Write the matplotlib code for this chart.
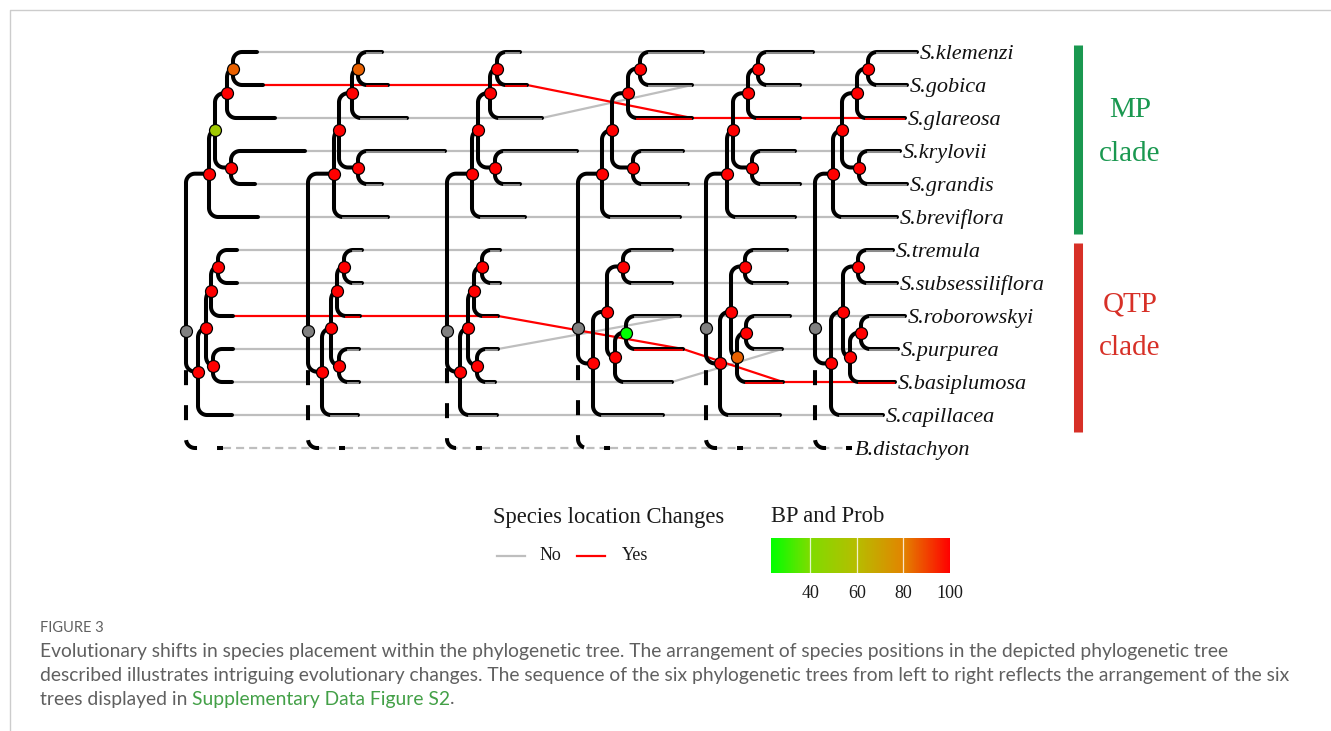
import numpy as np
import matplotlib
matplotlib.use("Agg")
import matplotlib.pyplot as plt
from matplotlib.colors import LinearSegmentedColormap, Normalize
from matplotlib.cm import ScalarMappable
from matplotlib.lines import Line2D

plt.rcParams["lines.scale_dashes"] = False

# ---- data ---------------------------------------------------------------
# Six trees, left to right.  "(a,b):x#bp" is an internal node at depth x
# (measured from the tree root) with support bp; "name:x" is a tip whose
# branch ends at depth x.  Tip order in the string = order top to bottom.
TREE_1 = ("(((((S.klemenzi:71,S.glareosa:77):47#85,S.gobica:89):41#100,"
          "(S.krylovii:119,S.grandis:69):45#100):29#52,S.breviflora:72):23#100,"
          "((((S.tremula:51,S.subsessiliflora:51):32#100,S.basiplumosa:47):25#100,"
          "(S.roborowskyi:47,S.purpurea:46):27#100):20#100,S.capillacea:46):12#100,"
          "B.distachyon:37):0#NA")
TREE_2 = ("(((((S.klemenzi:74,S.glareosa:80):50#85,S.gobica:99):44#100,"
          "(S.krylovii:137,S.grandis:74):50#100):31#100,S.breviflora:80):26#100,"
          "((((S.tremula:54,S.subsessiliflora:54):36#100,S.basiplumosa:52):29#100,"
          "(S.roborowskyi:51,S.purpurea:51):31#100):23#100,S.capillacea:50):14#100,"
          "B.distachyon:37):0#NA")
TREE_3 = ("(((((S.klemenzi:73,S.glareosa:80):50#100,S.gobica:95):43#100,"
          "(S.krylovii:130,S.grandis:73):48#100):31#100,S.breviflora:78):25#100,"
          "((((S.tremula:53,S.subsessiliflora:53):35#100,S.basiplumosa:51):27#100,"
          "(S.roborowskyi:51,S.purpurea:48):30#100):21#100,S.capillacea:50):13#100,"
          "B.distachyon:35):0#NA")
TREE_4 = ("(((((S.klemenzi:125,S.gobica:114):62#100,S.glareosa:114):50#100,"
          "(S.krylovii:105,S.grandis:110):55#100):34#100,S.breviflora:102):24#100,"
          "(((S.tremula:94,S.subsessiliflora:94):45#100,((S.roborowskyi:102,"
          "S.basiplumosa:105):48#23,S.purpurea:94):37#100):29#100,"
          "S.capillacea:85):15#100,B.distachyon:32):0#NA")
TREE_5 = ("(((((S.klemenzi:107,S.gobica:94):52#100,S.glareosa:94):42#100,"
          "(S.krylovii:89,S.grandis:94):46#100):27#100,S.breviflora:89):21#100,"
          "(((S.tremula:81,S.subsessiliflora:81):39#100,((S.roborowskyi:84,"
          "S.purpurea:76):40#100,S.basiplumosa:77):31#85):25#100,"
          "S.capillacea:74):14#100,B.distachyon:37):0#NA")
TREE_6 = ("(((((S.klemenzi:102,S.gobica:92):53#100,S.glareosa:90):42#100,"
          "(S.krylovii:85,S.grandis:92):44#100):27#100,S.breviflora:82):18#100,"
          "(((S.tremula:78,S.subsessiliflora:82):43#100,((S.roborowskyi:90,"
          "S.purpurea:83):46#100,S.basiplumosa:80):35#100):28#100,"
          "S.capillacea:68):16#100,B.distachyon:37):0#NA")
TREES = [TREE_1, TREE_2, TREE_3, TREE_4, TREE_5, TREE_6]

CHANGED = ["S.glareosa", "S.basiplumosa"]      # "Yes" in the legend
OUTGROUP = "B.distachyon"
MP_CLADE = ["S.klemenzi", "S.gobica", "S.glareosa", "S.krylovii",
            "S.grandis", "S.breviflora"]
QTP_CLADE = ["S.tremula", "S.subsessiliflora", "S.roborowskyi",
             "S.purpurea", "S.basiplumosa", "S.capillacea"]
BP_STOPS = [23.2, 40, 60, 80, 100]
BP_TICKS = [40, 60, 80, 100]

# ---- layout / style ------------------------------------------------------
W, H = 1331, 731
ROW0, ROW_PX = 52, 33            # pixel y of first tip row, row spacing
TREE_X = [186, 308, 447, 578, 706, 815]
BR_LW = 2.9
CORNER = 9
GREY = "#bebebe"
SERIF = ["Liberation Serif", "DejaVu Serif"]
BP_COLORS = ["#00ff00", "#7fdc00", "#b6bd00", "#e28400", "#ff0000"]

span = BP_STOPS[-1] - BP_STOPS[0]
cmap = LinearSegmentedColormap.from_list(
    "bp", [((v - BP_STOPS[0]) / span, c) for v, c in zip(BP_STOPS, BP_COLORS)])
norm = Normalize(BP_STOPS[0], BP_STOPS[-1])


def parse_tree(s):
    pos = 0

    def read():
        nonlocal pos
        kids = []
        if s[pos] == "(":
            pos += 1
            kids.append(read())
            while s[pos] == ",":
                pos += 1
                kids.append(read())
            pos += 1
        start = pos
        while pos < len(s) and s[pos] not in ",)":
            pos += 1
        name, rest = s[start:pos].rsplit(":", 1)
        depth, _, bp = rest.partition("#")
        return {"name": name, "depth": float(depth),
                "bp": None if bp in ("", "NA") else float(bp), "kids": kids}

    return read()


def place(node, x0, tips):
    node["x"] = x0 + node["depth"]
    if node["kids"]:
        for kid in node["kids"]:
            place(kid, x0, tips)
        node["y"] = np.mean([k["y"] for k in node["kids"]])
    else:
        node["y"] = len(tips)
        tips[node["name"]] = node


def elbow(px, py, cx, cy):
    """Vertical at px, rounded corner, horizontal out to cx."""
    s = np.sign(cy - py)
    rx = min(CORNER, cx - px)
    ry = min(CORNER / ROW_PX, abs(cy - py))
    t = np.linspace(0, np.pi / 2, 14)
    xs = np.r_[px, px + rx - rx * np.cos(t), cx]
    ys = np.r_[py, cy - s * ry + s * ry * np.sin(t), cy]
    return xs, ys


fig = plt.figure(figsize=(W / 100, H / 100), dpi=100)
ax = fig.add_axes([0, 0, 1, 1])
ax.set_xlim(0, W)
ax.set_ylim((H - ROW0) / ROW_PX, -ROW0 / ROW_PX)
ax.axis("off")


def draw(node, idx):
    for kid in node["kids"]:
        xs, ys = elbow(node["x"], node["y"], kid["x"], kid["y"])
        if kid["name"] == OUTGROUP:
            ax.plot(xs[::-1], ys[::-1], color="black", lw=BR_LW,
                    linestyle=(6.5, (10.8, 14.4)), dash_capstyle="butt",
                    zorder=2)
        else:
            ax.plot(xs, ys, color="black", lw=BR_LW, solid_capstyle="round",
                    solid_joinstyle="round", zorder=2)
        if kid["kids"]:
            draw(kid, idx)
        elif idx > 0 and kid["name"] != OUTGROUP:
            c = "red" if kid["name"] in CHANGED else "#9a9a9a"
            ax.plot([node["x"] + CORNER, kid["x"] - 1],
                    [kid["y"] + 0.035] * 2, color=c, lw=1.3, zorder=3)
    face = "#808080" if node["bp"] is None else cmap(norm(node["bp"]))
    ax.plot(node["x"], node["y"], "o", ms=8.6, mfc=face, mec="black",
            mew=0.9, zorder=5)


trees = []
for s, x0 in zip(TREES, TREE_X):
    root = parse_tree(s)
    tips = {}
    place(root, x0, tips)
    trees.append((root, tips))

# connecting lines between consecutive trees (tip end -> tip end)
for (_, a), (_, b) in zip(trees[:-1], trees[1:]):
    for name, tip in a.items():
        nxt = b[name]
        xs, ys = [tip["x"], nxt["x"]], [tip["y"], nxt["y"]]
        if name == OUTGROUP:
            ax.plot(xs, ys, color=GREY, lw=1.6, linestyle=(0, (5.8, 3.6)),
                    zorder=1)
        elif name in CHANGED:
            ax.plot(xs, ys, color="red", lw=1.6, zorder=1.5)
        else:
            ax.plot(xs, ys, color=GREY, lw=1.6, zorder=1)

for i, (root, _) in enumerate(trees):
    draw(root, i)

# tip labels of the last tree
for name, tip in trees[-1][1].items():
    ax.text(tip["x"] + 3, tip["y"], name, family=SERIF, style="italic",
            fontsize=16, ha="left", va="center_baseline", color="#111111")

# clade bars
last = trees[-1][1]
for members, color, label, dy in [(MP_CLADE, "#1a9850", "MP", -0.75),
                                  (QTP_CLADE, "#d73027", "QTP", -0.85)]:
    rows = [last[m]["y"] for m in members]
    ax.plot([1078, 1078], [min(rows) - 0.22, max(rows) + 0.5], color=color,
            lw=6.5, solid_capstyle="butt")
    mid = np.mean(rows)
    ax.text(1130, mid + dy, label, family=SERIF, fontsize=21, color=color,
            ha="center", va="center")
    ax.text(1130, mid + dy + 1.33, "clade", family=SERIF, fontsize=21,
            color=color, ha="center", va="center")


def fx(x):
    return x / W


def fy(y):
    return 1 - y / H


# legend: species location changes
fig.text(fx(493), fy(517), "Species location Changes", family=SERIF,
         fontsize=16.3, ha="left", va="center", color="#1a1a1a")
fig.add_artist(Line2D([fx(497), fx(525)], [fy(556)] * 2, color=GREY, lw=1.6))
fig.text(fx(540), fy(556), "No", family=SERIF, fontsize=13, ha="left",
         va="center", color="#1a1a1a")
fig.add_artist(Line2D([fx(577), fx(605)], [fy(556)] * 2, color="red", lw=1.6))
fig.text(fx(622), fy(556), "Yes", family=SERIF, fontsize=13, ha="left",
         va="center", color="#1a1a1a")

# legend: colour bar
fig.text(fx(771), fy(516), "BP and Prob", family=SERIF, fontsize=16.3,
         ha="left", va="center", color="#1a1a1a")
cax = fig.add_axes([fx(771), fy(573), fx(950) - fx(771), (573 - 538) / H])
cb = fig.colorbar(ScalarMappable(norm=norm, cmap=cmap), cax=cax,
                  orientation="horizontal", ticks=BP_TICKS)
cb.outline.set_visible(False)
cax.tick_params(length=0, pad=9, labelsize=13, labelcolor="#1a1a1a")
for lab in cax.get_xticklabels():
    lab.set_family(SERIF)
for v in BP_TICKS[:-1]:
    cax.axvline(v, color="white", lw=0.9, alpha=0.8)

# caption
fig.add_artist(Line2D([fx(9.5), fx(9.5), fx(W)], [0, fy(9.5), fy(9.5)],
                      color="#cccccc", lw=1))
cap_font = dict(family=["Lato", "DejaVu Sans"], color="#606060")
fig.text(fx(40), fy(628), "FIGURE 3", fontsize=10.5, ha="left", va="center",
         **cap_font)
cap_lines = [
    "Evolutionary shifts in species placement within the phylogenetic tree. "
    "The arrangement of species positions in the depicted phylogenetic tree",
    "described illustrates intriguing evolutionary changes. The sequence of "
    "the six phylogenetic trees from left to right reflects the arrangement "
    "of the six",
]
CAP_SIZE = 13.9
for k, line in enumerate(cap_lines):
    fig.text(fx(40), fy(651 + 24 * k), line, fontsize=CAP_SIZE, ha="left",
             va="center", **cap_font)
t1 = fig.text(fx(40), fy(699), "trees displayed in ", fontsize=CAP_SIZE,
              ha="left", va="center", **cap_font)
t2 = ax.annotate("Supplementary Data Figure S2", xy=(1, 0), xycoords=t1,
                 va="bottom", ha="left", fontsize=CAP_SIZE,
                 family=["Lato", "DejaVu Sans"], color="#43a047")
ax.annotate(".", xy=(1, 0), xycoords=t2, va="bottom", ha="left",
            fontsize=CAP_SIZE, **cap_font)

fig.savefig("out.png", dpi=100)
